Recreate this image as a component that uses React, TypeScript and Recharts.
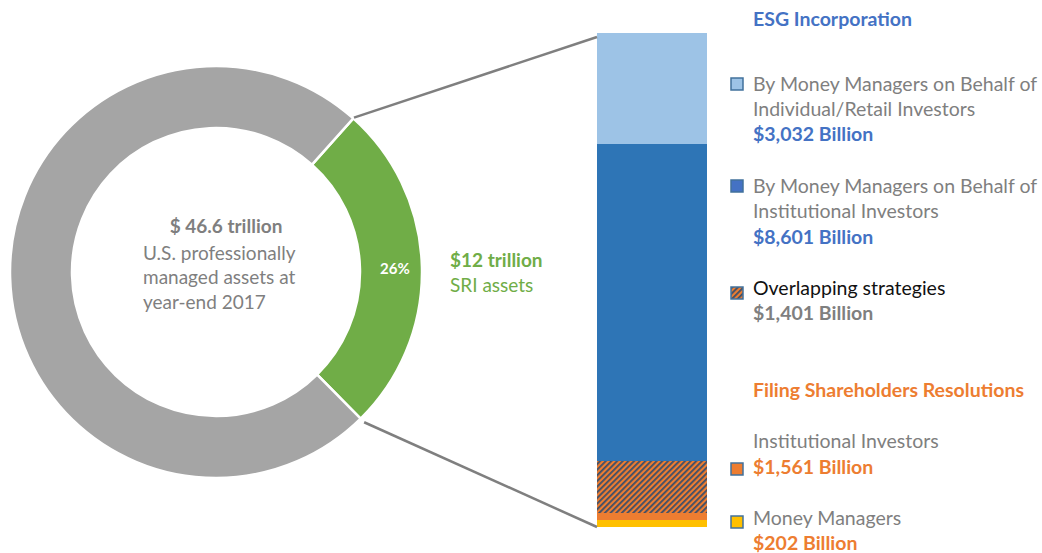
import React from "react";
import { PieChart, Pie, Cell, BarChart, Bar, XAxis, YAxis } from "recharts";

// ---- Data ----
const donutNames = ["SRI assets", "Other U.S. professionally managed assets"];
const donutValues = [26, 74];
const donutColors = ["#70AD47", "#A5A5A5"];

const barCategories = ["SRI assets"];
const segmentKeys = ["moneyManagers", "institutional", "overlapping", "esgInstitutional", "esgRetail"];
const segmentValues = [170, 170, 1263, 7700, 2696];
const segmentFills = ["#FFC000", "#ED7D31", "url(#hatchPattern)", "#2E75B6", "#9DC3E6"];

const centerTitle = "$ 46.6 trillion";
const centerLines = ["U.S. professionally", "managed assets at", "year-end 2017"];
const sriTitle = "$12 trillion";
const sriSub = "SRI assets";

const FONT = "Lato, 'Open Sans', sans-serif";
const GRAY = "#7F7F7F";
const BLUE = "#4472C4";
const ORANGE = "#ED7D31";
const GREEN = "#70AD47";

// layout constants
const PIE_CX = 216;
const PIE_CY = 272;
const PIE_IN = 144;
const PIE_OUT = 206;
const START_ANGLE = -45.4;
const BAR_LEFT = 597;
const BAR_TOP = 33;
const BAR_W = 110;
const BAR_H = 494;

const donutData = donutNames.map((n, i) => ({ name: n, value: donutValues[i] }));
const barData = barCategories.map((c) => {
  const row: Record<string, any> = { name: c };
  segmentKeys.forEach((k, i) => (row[k] = segmentValues[i]));
  return row;
});
const barTotal = segmentValues.reduce((a, b) => a + b, 0);

const RAD = Math.PI / 180;
const greenEnd = START_ANGLE + (donutValues[0] / donutValues.reduce((a, b) => a + b, 0)) * 360;
const ptAt = (ang: number, r: number) => ({
  x: PIE_CX + r * Math.cos(ang * RAD),
  y: PIE_CY - r * Math.sin(ang * RAD),
});
const lineTopStart = ptAt(greenEnd, PIE_OUT + 1);
const lineBotStart = ptAt(START_ANGLE, PIE_OUT + 5);

type LegendLine = { text: string; y: number; bold?: boolean; color: string };
const legendLines: LegendLine[] = [
  { text: "ESG Incorporation", y: 18, bold: true, color: BLUE },
  { text: "By Money Managers on Behalf of", y: 83, color: GRAY },
  { text: "Individual/Retail Investors", y: 108, color: GRAY },
  { text: "$3,032 Billion", y: 133, bold: true, color: BLUE },
  { text: "By Money Managers on Behalf of", y: 185, color: GRAY },
  { text: "Institutional Investors", y: 210, color: GRAY },
  { text: "$8,601 Billion", y: 236, bold: true, color: BLUE },
  { text: "Overlapping strategies", y: 287, color: "#111111" },
  { text: "$1,401 Billion", y: 312, bold: true, color: GRAY },
  { text: "Filing Shareholders Resolutions", y: 389, bold: true, color: ORANGE },
  { text: "Institutional Investors", y: 440, color: GRAY },
  { text: "$1,561 Billion", y: 466, bold: true, color: ORANGE },
  { text: "Money Managers", y: 517, color: GRAY },
  { text: "$202 Billion", y: 542, bold: true, color: ORANGE },
];
const legendSquares = [
  { y: 84, fill: "#9DC3E6" },
  { y: 186, fill: BLUE },
  { y: 293, fill: "url(#hatchPattern)" },
  { y: 469, fill: ORANGE },
  { y: 522, fill: "#FFC000" },
];

const renderPieLabel = (props: any) => {
  const { cx, cy, midAngle, innerRadius, outerRadius, index, percent } = props;
  if (index !== 0) return null;
  const r = (innerRadius + outerRadius) / 2 + 4;
  const x = cx + r * Math.cos(-midAngle * RAD);
  const y = cy + r * Math.sin(-midAngle * RAD);
  return (
    <text x={x} y={y} fill="#FFFFFF" fontFamily={FONT} fontWeight={700} fontSize={15} textAnchor="middle" dominantBaseline="central">
      {`${Math.round(percent * 100)}%`}
    </text>
  );
};

export default function App() {
  return (
    <div style={{ position: "absolute", left: 0, top: 0, width: 1042, height: 553, background: "#fff", fontFamily: FONT }}>
      <svg width={0} height={0} style={{ position: "absolute" }}>
        <defs>
          <pattern id="hatchPattern" patternUnits="userSpaceOnUse" width={4} height={4} patternTransform="rotate(45)">
            <rect x={0} y={0} width={4} height={4} fill="#ED7D31" />
            <rect x={0} y={0} width={1.8} height={4} fill="#3A4E6A" />
          </pattern>
        </defs>
      </svg>
      <div style={{ position: "absolute", left: 0, top: 0 }}>
        <PieChart width={1042} height={553} margin={{ top: 0, right: 0, bottom: 0, left: 0 }}>
          <Pie
            data={donutData}
            dataKey="value"
            nameKey="name"
            cx={PIE_CX}
            cy={PIE_CY}
            innerRadius={PIE_IN}
            outerRadius={PIE_OUT}
            startAngle={START_ANGLE}
            endAngle={START_ANGLE + 360}
            stroke="#FFFFFF"
            strokeWidth={2.5}
            label={renderPieLabel}
            labelLine={false}
            isAnimationActive={false}
          >
            {donutData.map((d, i) => (
              <Cell key={d.name} fill={donutColors[i]} />
            ))}
          </Pie>
        </PieChart>
      </div>
      <div style={{ position: "absolute", left: BAR_LEFT, top: BAR_TOP }}>
        <BarChart width={BAR_W} height={BAR_H} data={barData} margin={{ top: 0, right: 0, bottom: 0, left: 0 }} barCategoryGap={0} barGap={0}>
          <XAxis dataKey="name" hide />
          <YAxis hide domain={[0, barTotal]} />
          {segmentKeys.map((k, i) => (
            <Bar key={k} dataKey={k} stackId="sri" fill={segmentFills[i]} isAnimationActive={false} />
          ))}
        </BarChart>
      </div>
      <svg width={1042} height={553} style={{ position: "absolute", left: 0, top: 0, pointerEvents: "none" }}>
        <line x1={lineTopStart.x} y1={lineTopStart.y} x2={BAR_LEFT} y2={BAR_TOP + 4} stroke="#7F7F7F" strokeWidth={2.5} />
        <line x1={lineBotStart.x} y1={lineBotStart.y} x2={BAR_LEFT} y2={BAR_TOP + BAR_H} stroke="#7F7F7F" strokeWidth={2.5} />
        <g fontFamily={FONT} fontSize={19}>
          <text x={226} y={225} textAnchor="middle" dominantBaseline="central" fill={GRAY} fontWeight={700}>{centerTitle}</text>
          {centerLines.map((t, i) => (
            <text key={t} x={143} y={252 + i * 24.5} dominantBaseline="central" fill={GRAY}>{t}</text>
          ))}
          <text x={450} y={259} dominantBaseline="central" fill={GREEN} fontWeight={700}>{sriTitle}</text>
          <text x={450} y={284} dominantBaseline="central" fill={GREEN}>{sriSub}</text>
        </g>
        <g fontFamily={FONT} fontSize={19.5}>
          {legendLines.map((l, i) => (
            <text key={i} x={753} y={l.y} dominantBaseline="central" fill={l.color} fontWeight={l.bold ? 700 : 400}>{l.text}</text>
          ))}
          {legendSquares.map((s, i) => (
            <rect key={i} x={731} y={s.y - 6} width={12} height={12} fill={s.fill} stroke="#41719C" strokeWidth={1.5} />
          ))}
        </g>
      </svg>
    </div>
  );
}
